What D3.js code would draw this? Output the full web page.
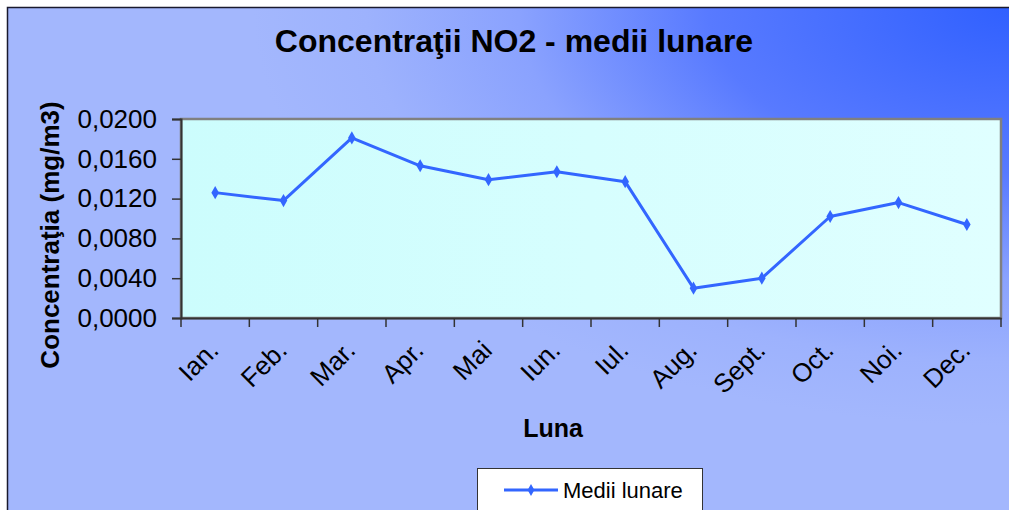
<!DOCTYPE html>
<html>
<head>
<meta charset="utf-8">
<script src="https://cdn.jsdelivr.net/npm/d3@7"></script>
<style>
  body { margin: 0; background: #fff; }
  svg { display: block; font-family: "Liberation Sans", Arial, sans-serif; }
</style>
</head>
<body>
<svg id="chart" width="1009" height="510"></svg>
<script>
const months = ["Ian.", "Feb.", "Mar.", "Apr.", "Mai", "Iun.", "Iul.", "Aug.", "Sept.", "Oct.", "Noi.", "Dec."];
const values = [0.0126, 0.0118, 0.0181, 0.0153, 0.0139, 0.0147, 0.0137, 0.0030, 0.0040, 0.0102, 0.0116, 0.0094];
const yTicks = [0, 0.004, 0.008, 0.012, 0.016, 0.02];
const title = "Concentraţii NO2 - medii lunare";
const yTitle = "Concentraţia (mg/m3)";
const xTitle = "Luna";
const seriesName = "Medii lunare";

const svg = d3.select("#chart");
const plotL = 181, plotR = 1001, plotT = 119, plotB = 318;

const defs = svg.append("defs");
// corner gradient, dark in the top right
const bg = defs.append("radialGradient").attr("id", "bg")
  .attr("gradientUnits", "userSpaceOnUse")
  .attr("cx", 0).attr("cy", 0).attr("r", 1)
  .attr("gradientTransform", "translate(1012,6) scale(760,420)");
bg.append("stop").attr("offset", 0).attr("stop-color", "#3060ff");
bg.append("stop").attr("offset", 0.4).attr("stop-color", "#587aff");
bg.append("stop").attr("offset", 0.65).attr("stop-color", "#8aa2fe");
bg.append("stop").attr("offset", 0.85).attr("stop-color", "#9db2fd");
bg.append("stop").attr("offset", 1).attr("stop-color", "#a3b7fd");

const pf = defs.append("linearGradient").attr("id", "pf")
  .attr("x1", 0).attr("y1", 0).attr("x2", 1).attr("y2", 0);
pf.append("stop").attr("offset", 0).attr("stop-color", "#ccfdfd");
pf.append("stop").attr("offset", 1).attr("stop-color", "#e0ffff");

// chart area background
svg.append("rect")
  .attr("x", 7.5).attr("y", 7.5).attr("width", 1010).attr("height", 510)
  .attr("fill", "url(#bg)").attr("stroke", "#1a1a2e").attr("stroke-width", 1.5);

// plot area
svg.append("rect")
  .attr("x", plotL).attr("y", plotT).attr("width", plotR - plotL).attr("height", plotB - plotT)
  .attr("fill", "url(#pf)").attr("stroke", "#808080").attr("stroke-width", 2.5);

const x = d3.scaleBand().domain(months).range([plotL, plotR]);
const y = d3.scaleLinear().domain([0, 0.02]).range([plotB, plotT]);

// Y axis
const yAxis = svg.append("g")
  .attr("transform", `translate(${plotL},0)`)
  .call(d3.axisLeft(y).tickValues(yTicks).tickSize(9).tickPadding(15)
    .tickFormat(d => d3.format(".4f")(d).replace(".", ",")));
yAxis.select(".domain").attr("stroke", "#333").attr("stroke-width", 2);
yAxis.selectAll(".tick line").attr("stroke", "#333").attr("stroke-width", 1.5);
yAxis.selectAll("text").attr("font-size", 26).attr("fill", "#000")
  .attr("font-family", "Liberation Sans, Arial, sans-serif");

// X axis
const xAxis = svg.append("g")
  .attr("transform", `translate(0,${plotB})`)
  .call(d3.axisBottom(x).tickSize(0).tickFormat(""));
xAxis.select(".domain").attr("stroke", "#333").attr("stroke-width", 2);
xAxis.selectAll(".tick").remove();
const bounds = months.map(m => x(m)).concat([plotR]);
svg.append("g").selectAll("line")
  .data(bounds).enter().append("line")
  .attr("x1", d => d).attr("x2", d => d)
  .attr("y1", plotB).attr("y2", plotB + 9)
  .attr("stroke", "#333").attr("stroke-width", 1.5);

svg.append("g").selectAll("text")
  .data(months).enter().append("text")
  .attr("transform", d => `translate(${x(d) + x.bandwidth() / 2 + 5},352) rotate(-45)`)
  .attr("text-anchor", "end")
  .attr("font-size", 26)
  .attr("fill", "#000")
  .text(d => d);

// line + markers
const cx = (d, i) => x(months[i]) + x.bandwidth() / 2;
svg.append("path")
  .datum(values)
  .attr("d", d3.line().x(cx).y(d => y(d)))
  .attr("fill", "none")
  .attr("stroke", "#3366ff")
  .attr("stroke-width", 3)
  .attr("stroke-linejoin", "round");

svg.append("g").selectAll("path")
  .data(values).enter().append("path")
  .attr("transform", (d, i) => `translate(${cx(d, i)},${y(d)})`)
  .attr("d", d3.symbol(d3.symbolDiamond, 50))
  .attr("fill", "#3366ff");

// titles
svg.append("text")
  .attr("x", 514).attr("y", 52)
  .attr("text-anchor", "middle")
  .attr("font-size", 32).attr("font-weight", "bold")
  .text(title);

svg.append("text")
  .attr("transform", "translate(59,235) rotate(-90)")
  .attr("text-anchor", "middle")
  .attr("font-size", 26).attr("font-weight", "bold")
  .text(yTitle);

svg.append("text")
  .attr("x", 553).attr("y", 437)
  .attr("text-anchor", "middle")
  .attr("font-size", 25).attr("font-weight", "bold")
  .text(xTitle);

// legend
const lg = svg.append("g");
lg.append("rect")
  .attr("x", 477.5).attr("y", 468.5).attr("width", 225).attr("height", 60)
  .attr("fill", "#fff").attr("stroke", "#333").attr("stroke-width", 1);
lg.append("line")
  .attr("x1", 504).attr("x2", 558).attr("y1", 490).attr("y2", 490)
  .attr("stroke", "#3366ff").attr("stroke-width", 3);
lg.append("path")
  .attr("transform", "translate(531,490)")
  .attr("d", d3.symbol(d3.symbolDiamond, 40))
  .attr("fill", "#3366ff");
lg.append("text")
  .attr("x", 563).attr("y", 498)
  .attr("font-size", 22)
  .text(seriesName);
</script>
</body>
</html>
